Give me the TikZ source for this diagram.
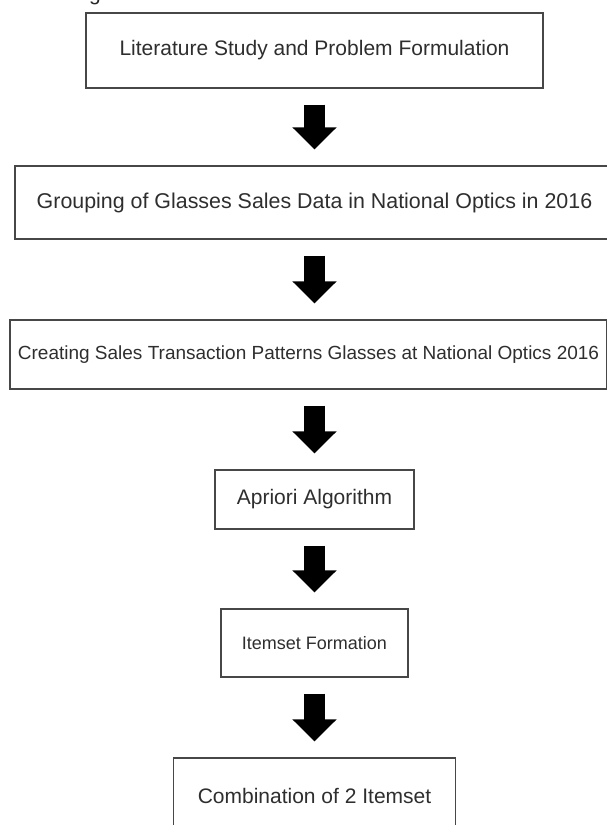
\documentclass[tikz,border=0pt]{standalone}
\usepackage{fontspec}
\setmainfont{Liberation Sans}
\usetikzlibrary{arrows.meta}
\tikzset{
  stepbox/.style={draw=black!72, line width=1.3pt, text=black!82, inner sep=0pt,
    font=\fontsize{21}{25}\selectfont},
  flow/.style={line width=21pt, -{Triangle[width=43pt,length=22pt]},
    shorten <=16pt, shorten >=16pt},
}
\begin{document}
\begin{tikzpicture}[x=1pt,y=-1pt]
      \useasboundingbox (0,0) rectangle (606,825);
      \draw
        (89,0) node[anchor=base west, inner sep=0pt, text=black!85,
          font=\fontsize{21}{25}\selectfont] (cap){g}
        (314.5,50.5) node[stepbox, minimum width=457pt, minimum height=75pt] (lit)
          {Literature Study and Problem Formulation}
        (314.5,202.5) node[stepbox, minimum width=599pt, minimum height=73pt,
          font=\fontsize{21.4}{25}\selectfont] (group)
          {Grouping of Glasses Sales Data in National Optics in 2016}
        (308.5,354.5) node[stepbox, minimum width=597pt, minimum height=69pt,
          font=\fontsize{19}{23}\selectfont] (pattern)
          {Creating Sales Transaction Patterns Glasses at National Optics 2016}
        (314.5,499.5) node[stepbox, minimum width=199pt, minimum height=59pt] (apriori)
          {Apriori Algorithm}
        (314.5,643) node[stepbox, minimum width=187pt, minimum height=68pt,
          font=\fontsize{18}{22}\selectfont] (itemset)
          {Itemset Formation}
        (314.5,796) node[stepbox, minimum width=282pt, minimum height=76pt] (combi)
          {Combination of 2 Itemset};
      \begin{scope}[flow]
        \draw (lit) to (group);
        \draw (group.south) to (group.south |- pattern.north);
        \draw (apriori.north |- pattern.south) to (apriori.north);
        \draw (apriori) to (itemset);
        \draw (itemset) to (combi);
      \end{scope}
    \end{tikzpicture}
\end{document}
